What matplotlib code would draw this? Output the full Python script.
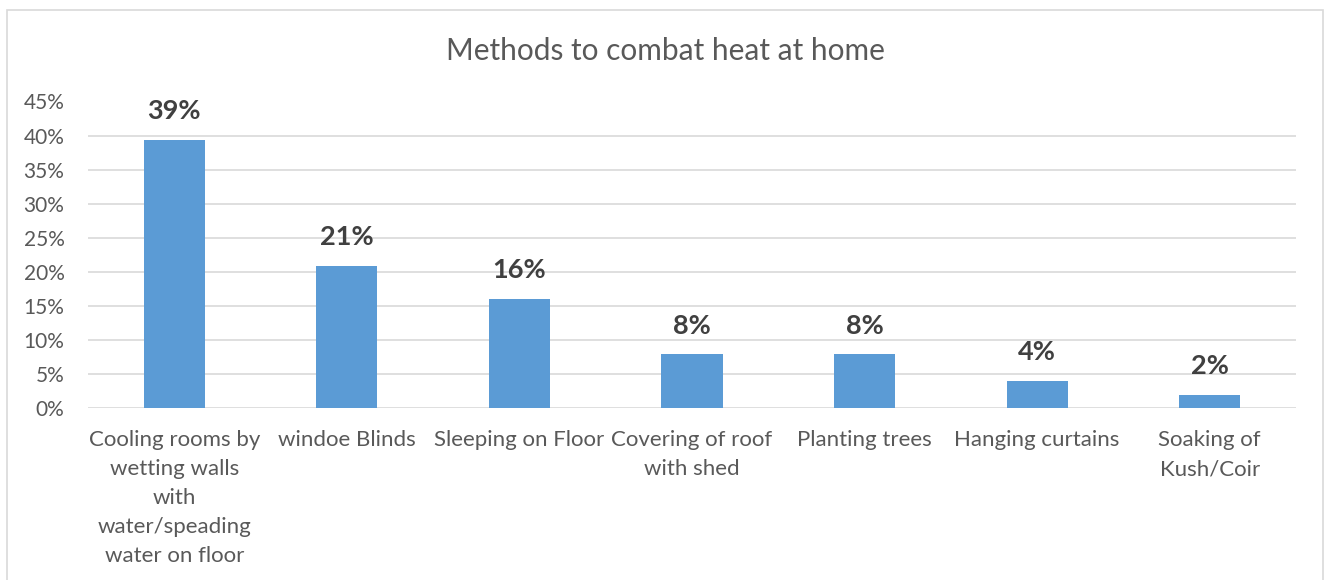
import matplotlib
matplotlib.use("Agg")
import matplotlib.pyplot as plt
from matplotlib.patches import Rectangle

categories = [
    "Cooling rooms by\nwetting walls\nwith\nwater/speading\nwater on floor",
    "windoe Blinds",
    "Sleeping on Floor",
    "Covering of roof\nwith shed",
    "Planting trees",
    "Hanging curtains",
    "Soaking of\nKush/Coir",
]
values = [39.4, 20.9, 16.0, 7.9, 7.9, 4.0, 1.9]
labels = ["39%", "21%", "16%", "8%", "8%", "4%", "2%"]
yticks = [0, 5, 10, 15, 20, 25, 30, 35, 40, 45]

plt.rcParams['font.family'] = ['Lato', 'DejaVu Sans']

W, H = 1330, 580
fig = plt.figure(figsize=(W / 100, H / 100), dpi=100)
fig.patches.append(Rectangle((7 / W, -0.1), (1323 - 7) / W, (H - 10) / H + 0.1,
                             transform=fig.transFigure, fill=False,
                             edgecolor='#d9d9d9', linewidth=1.2))

left, right, top, bottom = 88, 1296, 101.5, 408
ax = fig.add_axes([left / W, 1 - bottom / H, (right - left) / W, (bottom - top) / H])

x = list(range(len(categories)))
ax.bar(x, values, width=0.355, color='#5b9bd5', zorder=3)
ax.set_xlim(-0.5, len(categories) - 0.5)
ax.set_ylim(0, 45)
ax.set_yticks(yticks)
ax.set_yticklabels([f"{t}%" for t in yticks])
ax.set_xticks(x)
ax.set_xticklabels(categories, linespacing=1.56)
ax.tick_params(axis='both', length=0, labelsize=15, colors='#595959')
ax.tick_params(axis='x', labelsize=16, pad=16)
ax.tick_params(axis='y', pad=17)
ax.grid(axis='y', color='#d9d9d9', linewidth=1.2, zorder=0)
for s in ax.spines.values():
    s.set_visible(False)

for xi, v, lab in zip(x, values, labels):
    ax.annotate(lab, (xi, v), xytext=(0, 12), textcoords='offset points',
                ha='center', va='bottom', fontsize=19.5, fontweight='bold',
                color='#404040')

fig.text(665 / W, 1 - 51 / H, "Methods to combat heat at home", ha='center',
         va='center', fontsize=21.5, color='#595959')

fig.savefig("out.png", dpi=100, facecolor='white')
